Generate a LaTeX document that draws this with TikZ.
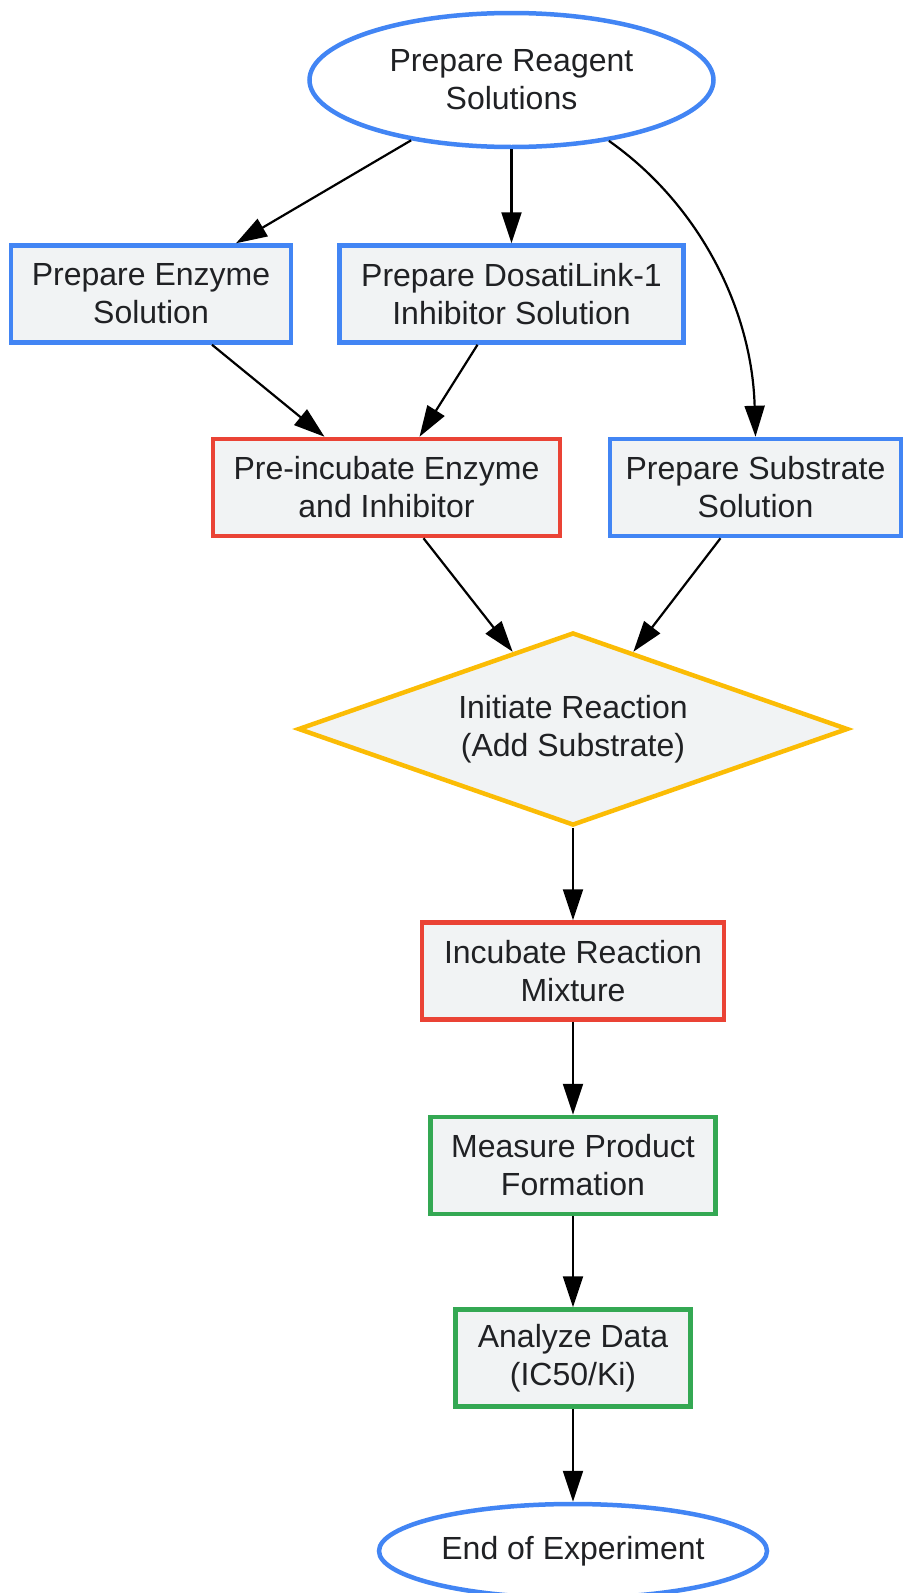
\documentclass[tikz,border=0pt]{standalone}
\usepackage{fontspec}
\setmainfont{Liberation Sans}
\usepackage{xcolor}
\usetikzlibrary{arrows.meta}
\usetikzlibrary{shapes.geometric}

\definecolor{gblue}{HTML}{4285F4}
\definecolor{gred}{HTML}{EA4335}
\definecolor{gyellow}{HTML}{FBBC05}
\definecolor{ggreen}{HTML}{34A853}
\definecolor{boxfill}{HTML}{F1F3F4}
\definecolor{inkgray}{HTML}{202124}

\tikzset{
  basenode/.style={draw, line width=4.5pt, text=inkgray, align=center, inner sep=0pt,
    font=\fontsize{32}{38}\selectfont},
  termnode/.style={basenode, ellipse, draw=gblue, fill=white},
  stepbox/.style={basenode, rectangle, fill=boxfill, minimum height=97pt},
  decnode/.style={basenode, diamond, aspect=2.8, draw=gyellow, fill=boxfill},
  flowarrow/.style={-{Triangle[length=31pt,width=20pt]}, line width=2.2pt, black},
}

\begin{document}
\begin{tikzpicture}[x=1pt,y=-1pt]
    \useasboundingbox (0,0) rectangle (903,1593);

    % Start
    \node[termnode, minimum width=404pt, minimum height=134pt] (prepreag) at (511.5,80) {Prepare Reagent\\Solutions};

    % Preparation steps
    \node[stepbox, draw=gblue, minimum width=280pt] (prepenz) at (151,294) {Prepare Enzyme\\Solution};
    \node[stepbox, draw=gblue, minimum width=344pt] (prepinh) at (511.5,294) {Prepare DosatiLink-1\\Inhibitor Solution};
    \node[stepbox, draw=gred, minimum width=347pt] (preinc) at (386.5,487.5) {Pre-incubate Enzyme\\and Inhibitor};
    \node[stepbox, draw=gblue, minimum width=291pt] (prepsub) at (755.5,487.5) {Prepare Substrate\\Solution};

    % Reaction start
    \node[decnode, minimum width=550pt, minimum height=193pt] (initrx) at (573,729) {Initiate Reaction\\(Add Substrate)};

    % Reaction and readout
    \node[stepbox, draw=gred, minimum width=302pt] (incub) at (573,971) {Incubate Reaction\\Mixture};
    \node[stepbox, draw=ggreen, minimum width=285pt] (measure) at (573,1165.5) {Measure Product\\Formation};
    \node[stepbox, draw=ggreen, minimum width=235pt] (analyze) at (573,1358) {Analyze Data\\(IC50/Ki)};

    % End
    \node[termnode, minimum width=388pt, minimum height=94pt] (finish) at (573,1551) {End of Experiment};

    % Connectors
    \draw[flowarrow] (prepreag.211) -- ([xshift=85pt]prepenz.north);
    \draw[flowarrow] (prepreag.south) -- (prepinh.north);
    \draw[flowarrow] (prepreag.328) .. controls (700,205) and (752,310) .. (prepsub.north);
    \draw[flowarrow] ([xshift=61pt]prepenz.south) -- ([xshift=-62pt]preinc.north);
    \draw[flowarrow] ([xshift=-34pt]prepinh.south) -- ([xshift=33pt]preinc.north);
    \draw[flowarrow] ([xshift=37pt]preinc.south) -- (initrx.128);
    \draw[flowarrow] ([xshift=-35pt]prepsub.south) -- (initrx.52);
    \draw[flowarrow] (initrx.south) -- (incub.north);
    \draw[flowarrow] (incub.south) -- (measure.north);
    \draw[flowarrow] (measure.south) -- (analyze.north);
    \draw[flowarrow] (analyze.south) -- (finish.north);
\end{tikzpicture}
\end{document}
